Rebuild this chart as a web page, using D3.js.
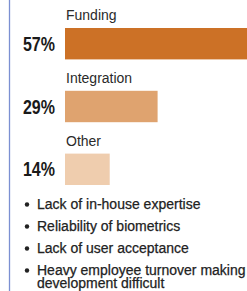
<!DOCTYPE html>
<html>
<head>
<meta charset="utf-8">
<script src="https://cdn.jsdelivr.net/npm/d3@7"></script>
<style>
  body { margin: 0; background: #fff; }
  svg { display: block; }
</style>
</head>
<body>
<div id="chart"></div>
<script>
// Data
var categories = ["Funding", "Integration", "Other"];
var shares = [57, 29, 14];
var reasons = [
    "Lack of in-house expertise",
    "Reliability of biometrics",
    "Lack of user acceptance",
    "Heavy employee turnover making development difficult"
];

var width = 247, height = 291;

var svg = d3.select("#chart").append("svg")
    .attr("width", width)
    .attr("height", height);

// Blue rule on the left
svg.append("line")
    .attr("x1", 9.5).attr("x2", 9.5)
    .attr("y1", 0).attr("y2", height)
    .attr("stroke", "#7b90d2")
    .attr("stroke-width", 1.3);

// Scales
var x = d3.scaleLinear()
    .domain([0, 57])
    .range([65, 247]);

var y = d3.scaleBand()
    .domain(categories)
    .range([28, 185])
    .paddingInner(0.5)
    .paddingOuter(0);

var color = d3.scaleOrdinal()
    .domain(categories)
    .range(["#cc7126", "#dfa36f", "#efcdae"]);

var rows = categories.map(function (c, i) { return { name: c, value: shares[i] }; });

// Bars
svg.selectAll("rect.bar")
    .data(rows)
    .enter()
    .append("rect")
    .attr("class", "bar")
    .attr("x", x(0))
    .attr("y", function (d) { return y(d.name); })
    .attr("width", function (d) { return x(d.value) - x(0); })
    .attr("height", y.bandwidth())
    .attr("fill", function (d) { return color(d.name); });

// Category names above bars
svg.selectAll("text.cat")
    .data(rows)
    .enter()
    .append("text")
    .attr("class", "cat")
    .attr("x", x(0) + 1)
    .attr("y", function (d) { return y(d.name) - 8; })
    .text(function (d) { return d.name; })
    .style("font-family", "Liberation Sans, Arial, sans-serif")
    .style("font-size", "14px")
    .attr("fill", "#2a2a2a");

// Percent labels (condensed look via horizontal squeeze)
svg.selectAll("text.pct")
    .data(rows)
    .enter()
    .append("text")
    .attr("class", "pct")
    .attr("transform", function (d) {
        return "translate(55," + (y(d.name) + y.bandwidth() / 2 + 7) + ") scale(0.8,1)";
    })
    .attr("text-anchor", "end")
    .text(function (d) { return d.value + "%"; })
    .style("font-family", "Liberation Sans, Arial, sans-serif")
    .style("font-weight", "bold")
    .style("font-size", "20px")
    .attr("fill", "#1a1a1a");

// Bullet list
var bulletTop = 209, bulletStep = 22, wrapLine = 12.5;

var items = svg.selectAll("g.reason")
    .data(reasons)
    .enter()
    .append("g")
    .attr("class", "reason")
    .attr("transform", function (d, i) { return "translate(0," + (bulletTop + i * bulletStep) + ")"; });

items.append("circle")
    .attr("cx", 27)
    .attr("cy", -4.5)
    .attr("r", 2.2)
    .attr("fill", "#222");

items.append("text")
    .attr("x", 37)
    .attr("y", 0)
    .style("font-family", "Liberation Sans, Arial, sans-serif")
    .style("font-size", "14px")
    .attr("fill", "#222")
    .attr("stroke", "#222")
    .attr("stroke-width", 0.25)
    .each(function (d) {
        // simple word wrap
        var el = d3.select(this);
        var words = d.split(" ");
        var line = [];
        var tspan = el.append("tspan").attr("x", 37).attr("dy", 0);
        words.forEach(function (w) {
            line.push(w);
            tspan.text(line.join(" "));
            if (tspan.node().getComputedTextLength() > 212 && line.length > 1) {
                line.pop();
                tspan.text(line.join(" "));
                line = [w];
                tspan = el.append("tspan").attr("x", 37).attr("dy", wrapLine).text(w);
            }
        });
    });
</script>
</body>
</html>
